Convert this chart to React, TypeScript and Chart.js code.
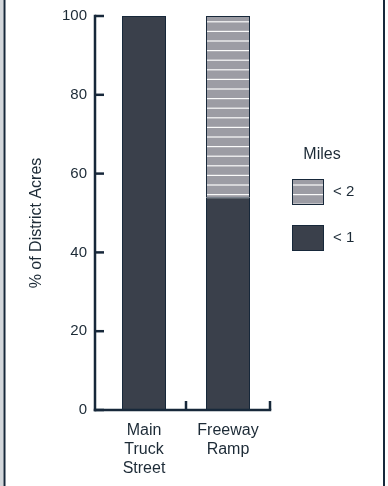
import React, { useEffect, useRef } from "react";
import { Chart, registerables } from "chart.js";

Chart.register(...registerables);

const categories: string[][] = [["Main", "Truck", "Street"], ["Freeway", "Ramp"]];
const under1: number[] = [100, 54];
const under2: number[] = [0, 46];
const yTicks: number[] = [0, 20, 40, 60, 80, 100];
const legendTitle = "Miles";
const seriesLabels = ["< 1", "< 2"];
const yTitle = "% of District Acres";

const DARK = "#3a404b";
const LINE = "#17283a";
const TEXT = "#1c2a36";
const FONT = "'Liberation Sans', Arial, Helvetica, sans-serif";

function makeStripePattern(): CanvasPattern | string {
  const c = document.createElement("canvas");
  c.width = 8;
  c.height = 48;
  const g = c.getContext("2d");
  if (!g) return "#9c9ca4";
  g.fillStyle = "#9c9ca4";
  g.fillRect(0, 0, 8, 48);
  g.fillStyle = "rgba(255,255,255,0.95)";
  for (let i = 0; i < 5; i++) {
    g.fillRect(0, 2 + i * 9.6, 8, 1.2);
  }
  const p = g.createPattern(c, "repeat");
  return p || "#9c9ca4";
}

export default function App() {
  const ref = useRef<HTMLCanvasElement>(null);

  useEffect(() => {
    document.body.style.margin = "0";
    const canvas = ref.current;
    if (!canvas) return;
    const stripe = makeStripePattern();

    const decor = {
      id: "decor",
      afterDraw(chart: any) {
        const ctx = chart.ctx;
        const { chartArea } = chart;
        const y = chart.scales.y;
        const x = chart.scales.x;
        const axisX = chartArea.left - 7;
        ctx.save();
        // frame lines
        ctx.fillStyle = "#d3d7db";
        ctx.fillRect(0, 0, 3.5, chart.height);
        ctx.fillStyle = LINE;
        ctx.fillRect(3.5, 0, 2, chart.height);
        ctx.fillRect(383, 0, 2, chart.height);
        // y axis
        ctx.strokeStyle = LINE;
        ctx.lineWidth = 2.5;
        ctx.lineCap = "butt";
        const yTop = y.getPixelForValue(100);
        const yBot = y.getPixelForValue(0);
        ctx.beginPath();
        ctx.moveTo(axisX, yTop - 1.25);
        ctx.lineTo(axisX, yBot + 1.25);
        ctx.stroke();
        for (const v of yTicks) {
          const py = y.getPixelForValue(v);
          ctx.beginPath();
          ctx.moveTo(axisX, py);
          ctx.lineTo(axisX + 9, py);
          ctx.stroke();
        }
        // x axis
        const right = chartArea.right;
        ctx.beginPath();
        ctx.moveTo(axisX - 1.25, yBot);
        ctx.lineTo(right + 1.25, yBot);
        ctx.stroke();
        const n = categories.length;
        for (let i = 0; i < n; i++) {
          const cx = x.getPixelForValue(i);
          const next = i < n - 1 ? x.getPixelForValue(i + 1) : cx + (cx - x.getPixelForValue(i - 1));
          const bx = (cx + next) / 2;
          ctx.beginPath();
          ctx.moveTo(bx, yBot);
          ctx.lineTo(bx, yBot - 9);
          ctx.stroke();
        }
        // y title
        ctx.save();
        ctx.translate(37, (yTop + yBot) / 2 + 10);
        ctx.rotate(-Math.PI / 2);
        ctx.fillStyle = TEXT;
        ctx.font = `16px ${FONT}`;
        ctx.textAlign = "center";
        ctx.textBaseline = "middle";
        ctx.fillText(yTitle, 0, 0);
        ctx.restore();
        // legend
        ctx.fillStyle = TEXT;
        ctx.font = `16px ${FONT}`;
        ctx.textAlign = "center";
        ctx.textBaseline = "middle";
        ctx.fillText(legendTitle, 322, 155);
        const items = [
          { fill: stripe, label: seriesLabels[1], yc: 192 },
          { fill: DARK, label: seriesLabels[0], yc: 238 },
        ];
        for (const it of items) {
          ctx.fillStyle = it.fill as any;
          ctx.fillRect(292, it.yc - 13, 32, 26);
          ctx.strokeStyle = LINE;
          ctx.lineWidth = 1;
          ctx.strokeRect(292.5, it.yc - 12.5, 31, 25);
          ctx.fillStyle = TEXT;
          ctx.textAlign = "left";
          ctx.font = `15px ${FONT}`;
          ctx.fillText(it.label, 333, it.yc);
        }
        ctx.restore();
      },
    };

    const chart = new Chart(canvas, {
      type: "bar",
      data: {
        labels: categories as any,
        datasets: [
          {
            label: seriesLabels[0],
            data: under1,
            backgroundColor: DARK,
            borderColor: LINE,
            borderWidth: 1,
          },
          {
            label: seriesLabels[1],
            data: under2,
            backgroundColor: stripe as any,
            borderColor: LINE,
            borderWidth: (c: any) => (c.raw > 0 ? 1 : 0),
          },
        ],
      },
      options: {
        animation: false,
        responsive: false,
        maintainAspectRatio: false,
        layout: { padding: { left: 25, top: 16, right: 118, bottom: 4 } },
        datasets: { bar: { categoryPercentage: 1, barPercentage: 0.524 } },
        plugins: { legend: { display: false }, tooltip: { enabled: false } },
        scales: {
          x: {
            stacked: true,
            grid: { display: false, drawTicks: false },
            border: { display: false },
            ticks: { color: TEXT, font: { family: FONT, size: 16 }, padding: 11, maxRotation: 0 },
            afterFit: (s: any) => {
              s.height = 486 - 410 - 4;
              s.paddingLeft = 0;
              s.paddingRight = 0;
            },
          },
          y: {
            stacked: true,
            min: 0,
            max: 100,
            afterBuildTicks: (s: any) => {
              s.ticks = yTicks.map((v) => ({ value: v }));
            },
            grid: { display: false, drawTicks: false },
            border: { display: false },
            ticks: { color: TEXT, font: { family: FONT, size: 15 }, padding: 15 },
            title: { display: false },
            afterFit: (s: any) => {
              s.width = 102 - 25;
              s.paddingTop = 0;
              s.paddingBottom = 0;
            },
          },
        },
      },
      plugins: [decor],
    });
    return () => chart.destroy();
  }, []);

  return (
    <div style={{ position: "absolute", left: 0, top: 0, width: 388, height: 486, background: "#fff" }}>
      <canvas ref={ref} width={388} height={486} style={{ width: 388, height: 486, display: "block" }} />
    </div>
  );
}
